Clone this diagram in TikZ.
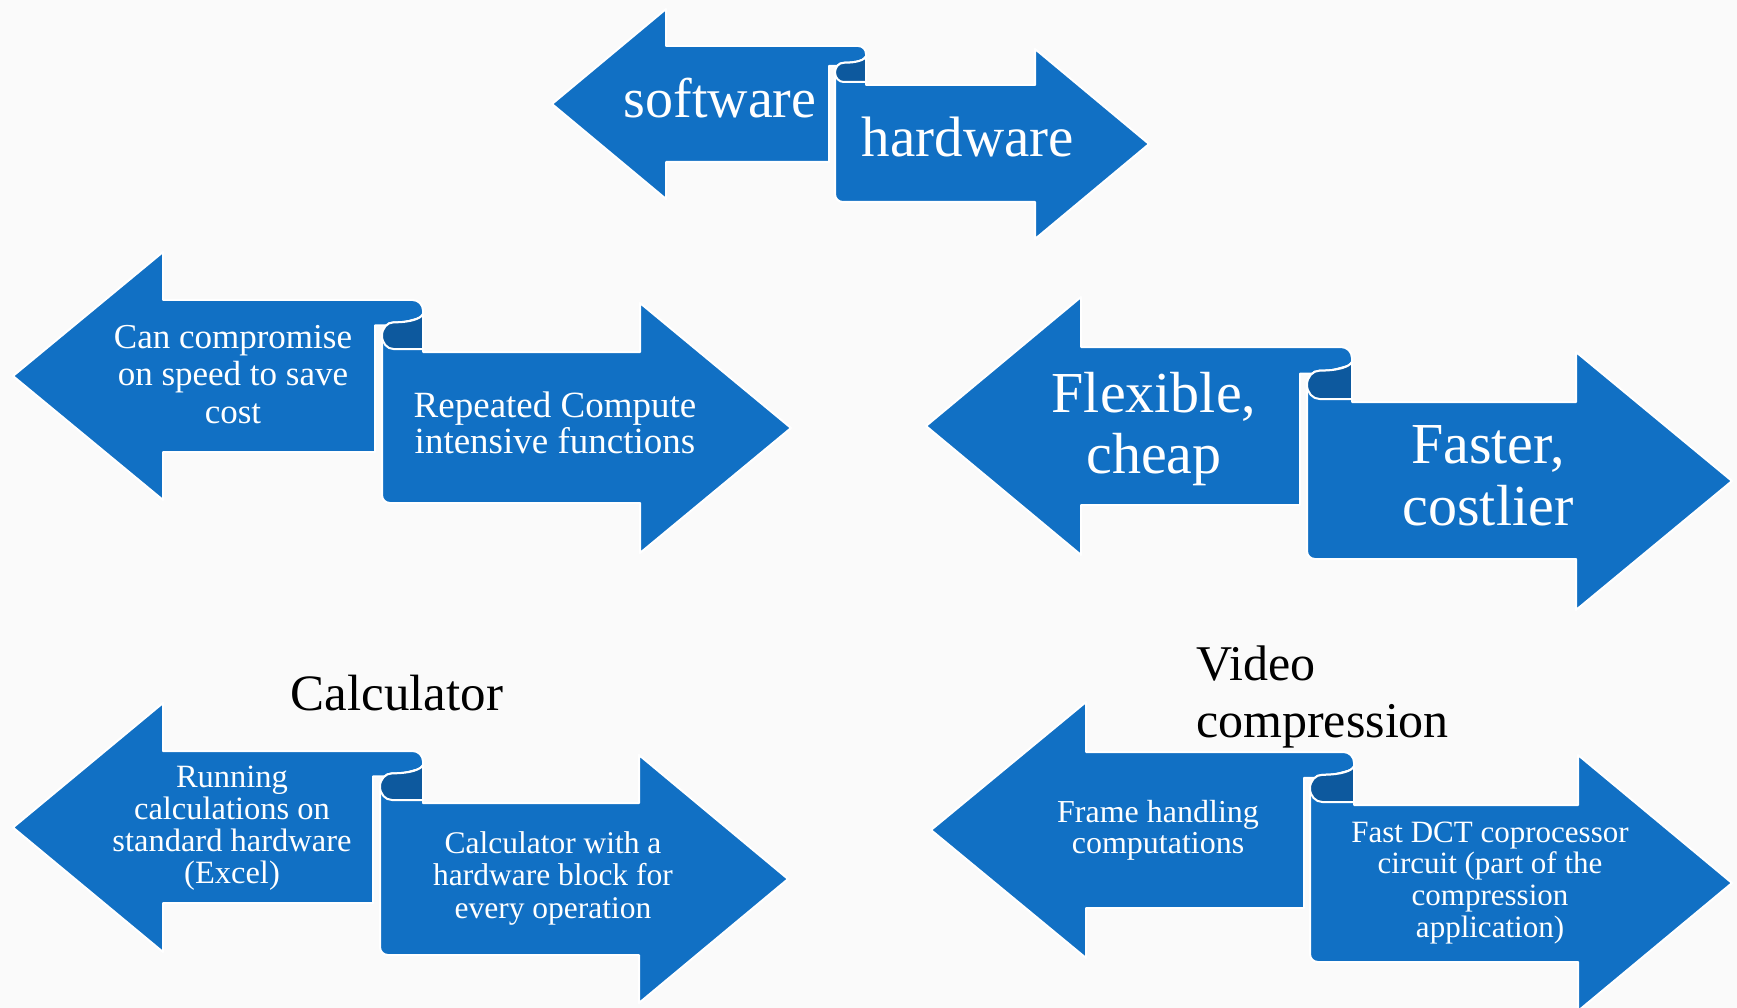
\documentclass[tikz,border=0pt]{standalone}
\usepackage{fontspec}
\setmainfont{Liberation Serif}
\definecolor{arrblue}{RGB}{17,112,196}
\definecolor{rolldark}{RGB}{13,89,158}
\definecolor{bgpaper}{RGB}{250,250,250}
\tikzset{
  arrowshape/.style={fill=arrblue, draw=white, line width=2pt, line join=round},
  rollshape/.style={fill=rolldark, draw=white, line width=2pt, line join=round},
  lbl/.style={text=white, inner sep=0pt, anchor=base},
  ttl/.style={text=black, inner sep=0pt, anchor=base},
}
\newcommand\mylines[4]{{\fontsize{#1}{#2}\selectfont\begin{tabular}[t]{@{}#3@{}}#4\end{tabular}}}
\newcommand\drawpair{%
  \pgfmathsetmacro\qCa{(\qHta+\qHba)/2}%
  \pgfmathsetmacro\qCb{(\qHtb+\qHbb)/2}%
  \pgfmathsetmacro\qd{\qTb-\qTa}%
  \pgfmathsetmacro\qw{\qRc-\qRo}%
  \pgfmathsetmacro\qr{0.2*\qd}%
  \pgfmathsetmacro\qe{0.28*\qw}%
  \pgfmathsetmacro\qYa{\qTa+0.43*\qd}%
  \pgfmathsetmacro\qYb{\qTb-3}%
  \pgfmathsetmacro\qYm{(\qYa+\qYb)/2}%
  \pgfmathsetmacro\qk{0.552*(\qYb-\qYa)/2}%
  \pgfmathsetmacro\qS{\qTa+0.27*\qd}%
  % left arrow
  \path[arrowshape] (\qLo,\qCa) -- (\qLi,\qHta) -- (\qLi,\qTa) -- ({\qRc-\qr},\qTa)
    .. controls ({\qRc-0.45*\qr},\qTa) and (\qRc,{\qTa+0.45*\qr}) .. (\qRc,{\qTa+\qr})
    -- (\qRc,{\qS+3}) -- ({\qRo+\qe},{\qYa+3}) -- (\qLt,{\qYa+3}) -- (\qLt,\qBa)
    -- (\qLi,\qBa) -- (\qLi,\qHba) -- cycle;
  % right arrow
  \path[arrowshape] (\qRo,\qYm) -- (\qRo,{\qBb-8})
    .. controls (\qRo,{\qBb-3.5}) and ({\qRo+3.5},\qBb) .. ({\qRo+8},\qBb)
    -- (\qRi,\qBb) -- (\qRi,\qHbb) -- (\qRt,\qCb) -- (\qRi,\qHtb) -- (\qRi,\qTb)
    -- (\qRc,\qTb) -- (\qRc,\qS)
    .. controls ({\qRc-0.05*\qw},{\qTa+0.36*\qd}) and ({\qRc-0.3*\qw},\qYa) .. ({\qRo+\qe},\qYa)
    .. controls ({\qRo+0.448*\qe},\qYa) and (\qRo,{\qYm-\qk}) .. (\qRo,\qYm) -- cycle;
  % roll interior
  \path[rollshape] (\qRc,\qS)
    .. controls ({\qRc-0.05*\qw},{\qTa+0.36*\qd}) and ({\qRc-0.3*\qw},\qYa) .. ({\qRo+\qe},\qYa)
    .. controls ({\qRo+0.448*\qe},\qYa) and (\qRo,{\qYm-\qk}) .. (\qRo,\qYm)
    .. controls (\qRo,{\qYm+\qk}) and ({\qRo+0.448*\qe},\qYb) .. ({\qRo+\qe},\qYb)
    -- (\qRc,\qYb) -- cycle;
}
\begin{document}
\begin{tikzpicture}[x=1pt,y=-1pt]
\useasboundingbox (0,0) rectangle (1737,1008);
\fill[bgpaper] (0,0) rectangle (1737,1008);

% pair A: software / hardware
\def\qLo{552}\def\qLi{666}\def\qLt{829}\def\qHta{9}\def\qHba{199}\def\qTa{46}\def\qBa{162}%
\def\qRo{835}\def\qRc{866}\def\qRi{1035}\def\qRt{1149}\def\qHtb{49}\def\qHbb{239}\def\qTb{85}\def\qBb{202}%
\drawpair
\node[lbl] (sw) at (720,118) {\mylines{56}{60}{c}{software}};
\node[lbl] (hw) at (968,157) {\mylines{57}{60}{c}{hardware}};

% pair B
\def\qLo{13}\def\qLi{163}\def\qLt{375}\def\qHta{252}\def\qHba{500}\def\qTa{300}\def\qBa{452}%
\def\qRo{382}\def\qRc{423}\def\qRi{640}\def\qRt{791}\def\qHtb{303}\def\qHbb{553}\def\qTb{352}\def\qBb{503}%
\drawpair
\node[lbl] (bl) at (233,348) {\mylines{35}{37.5}{c}{Can compromise\\on speed to save\\cost}};
\node[lbl] (br) at (555,417) {\mylines{37}{36}{c}{Repeated Compute\\intensive functions}};

% pair C
\def\qLo{926}\def\qLi{1081}\def\qLt{1300}\def\qHta{297}\def\qHba{555}\def\qTa{347}\def\qBa{505}%
\def\qRo{1307}\def\qRc{1352}\def\qRi{1576}\def\qRt{1732}\def\qHtb{352}\def\qHbb{610}\def\qTb{402}\def\qBb{559}%
\drawpair
\node[lbl] (cl) at (1154,412) {\mylines{58}{61}{c}{Flexible,\\cheap}};
\node[lbl] (cr) at (1488,463) {\mylines{58}{62}{c}{Faster,\\costlier}};

% pair D
\def\qLo{13}\def\qLi{163}\def\qLt{373}\def\qHta{703}\def\qHba{952}\def\qTa{751}\def\qBa{903}%
\def\qRo{380}\def\qRc{423}\def\qRi{639}\def\qRt{788}\def\qHtb{755}\def\qHbb{1003}\def\qTb{803}\def\qBb{955}%
\drawpair
\node[ttl] (dt) at (397,710) {\mylines{51}{55}{c}{Calculator}};
\node[lbl] (dl) at (232,787) {\mylines{32.5}{32}{c}{Running\\calculations on\\standard hardware\\(Excel)}};
\node[lbl] (dr) at (553,853) {\mylines{31.5}{32.5}{c}{Calculator with a\\hardware block for\\every operation}};

% pair E
\def\qLo{931}\def\qLi{1086}\def\qLt{1304}\def\qHta{702}\def\qHba{958}\def\qTa{752}\def\qBa{908}%
\def\qRo{1310}\def\qRc{1354}\def\qRi{1578}\def\qRt{1732}\def\qHtb{755}\def\qHbb{1011}\def\qTb{805}\def\qBb{962}%
\drawpair
\node[ttl, anchor=base west] (et) at (1196,680) {\mylines{50}{57}{l}{Video\\compression}};
\node[lbl] (el) at (1158,822) {\mylines{32}{31}{c}{Frame handling\\computations}};
\node[lbl] (er) at (1490,842) {\mylines{31}{31.7}{c}{Fast DCT coprocessor\\circuit (part of the\\compression\\application)}};
\end{tikzpicture}
\end{document}
